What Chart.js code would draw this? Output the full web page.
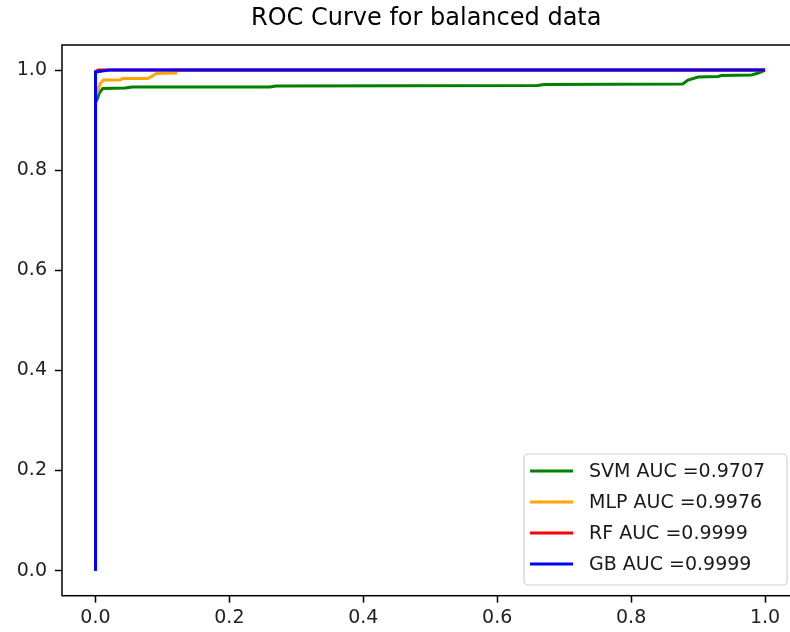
<!DOCTYPE html>
<html>
<head>
<meta charset="utf-8">
<script src="https://cdn.jsdelivr.net/npm/chart.js@4.4.1/dist/chart.umd.min.js"></script>
<style>
  html, body { margin: 0; padding: 0; background: #fff; overflow: hidden; }
  #wrap { width: 800px; height: 632px; }
</style>
</head>
<body>
<div id="wrap"><canvas id="roc" width="800" height="632"></canvas></div>
<script>
// ROC points (fpr / tpr)
const svmFpr = [0, 0, 0.003, 0.006, 0.011, 0.044, 0.055, 0.26, 0.27, 0.66, 0.67, 0.877, 0.885, 0.9, 0.93, 0.935, 0.98, 0.99, 1.0];
const svmTpr = [0, 0.935, 0.943, 0.955, 0.963, 0.964, 0.966, 0.966, 0.968, 0.969, 0.971, 0.972, 0.98, 0.986, 0.987, 0.989, 0.99, 0.994, 1.0];

const mlpFpr = [0, 0, 0.002, 0.007, 0.012, 0.037, 0.04, 0.078, 0.085, 0.091, 0.119, 0.12, 1.0];
const mlpTpr = [0, 0.95, 0.954, 0.973, 0.98, 0.98, 0.983, 0.983, 0.988, 0.993, 0.994, 1.0, 1.0];

const rfFpr = [0, 0, 0.004, 1.0];
const rfTpr = [0, 0.997, 1.0, 1.0];

const gbFpr = [0, 0, 0.005, 0.02, 1.0];
const gbTpr = [0, 0.996, 0.997, 1.0, 1.0];

const labels = ['SVM AUC =0.9707', 'MLP AUC =0.9976', 'RF AUC =0.9999', 'GB AUC =0.9999'];
const colors = ['#008000', '#ffa500', '#ff0000', '#0000ff'];
const tickValues = [0, 0.2, 0.4, 0.6, 0.8, 1.0];

const FONT = 'DejaVu Sans';

function toPoints(xs, ys) {
  return xs.map((x, i) => ({ x: x, y: ys[i] }));
}

const series = [[svmFpr, svmTpr], [mlpFpr, mlpTpr], [rfFpr, rfTpr], [gbFpr, gbTpr]];

// frame, title and matplotlib-like legend box
const decor = {
  id: 'decor',
  afterDraw(chart) {
    const { ctx, chartArea: a } = chart;
    ctx.save();
    ctx.strokeStyle = '#000';
    ctx.lineWidth = 1.5;
    ctx.strokeRect(a.left, a.top, a.right - a.left, a.bottom - a.top);

    ctx.fillStyle = '#000';
    ctx.font = '24px "' + FONT + '"';
    ctx.textAlign = 'center';
    ctx.textBaseline = 'middle';
    ctx.fillText('ROC Curve for balanced data', (a.left + a.right) / 2 - 4, 19);

    // legend
    const bw = 263, bh = 131;
    const bx = a.right - 11.5 - bw, by = a.bottom - 10.7 - bh;
    ctx.beginPath();
    ctx.roundRect(bx, by, bw, bh, 4);
    ctx.fillStyle = 'rgba(255,255,255,0.8)';
    ctx.fill();
    ctx.strokeStyle = '#d0d0d0';
    ctx.lineWidth = 1.2;
    ctx.stroke();

    ctx.font = '19px "' + FONT + '"';
    ctx.textAlign = 'left';
    chart.data.datasets.forEach((ds, i) => {
      const y = by + 17 + i * 31;
      ctx.strokeStyle = ds.borderColor;
      ctx.lineWidth = 3;
      ctx.beginPath();
      ctx.moveTo(bx + 6, y);
      ctx.lineTo(bx + 49, y);
      ctx.stroke();
      ctx.fillStyle = '#1a1a1a';
      ctx.fillText(ds.label, bx + 65, y + 1);
    });
    ctx.restore();
  }
};

new Chart(document.getElementById('roc'), {
  type: 'scatter',
  data: {
    datasets: series.map((s, i) => ({
      label: labels[i],
      data: toPoints(s[0], s[1]),
      showLine: true,
      borderColor: colors[i],
      backgroundColor: colors[i],
      borderWidth: 3,
      pointRadius: 0,
      tension: 0,
      order: 4 - i
    }))
  },
  options: {
    responsive: false,
    animation: false,
    layout: { padding: { top: 45, left: 0, right: 1.5, bottom: 0 } },
    plugins: { legend: { display: false }, title: { display: false }, tooltip: { enabled: false } },
    scales: {
      x: {
        type: 'linear',
        min: -0.05,
        max: 1.05,
        afterFit: s => { s.height = 36.3; },
        afterBuildTicks: s => { s.ticks = tickValues.map(v => ({ value: v })); },
        grid: { drawOnChartArea: false, tickLength: 7, color: '#000', tickWidth: 1.5 },
        border: { display: false },
        ticks: {
          padding: 4,
          color: '#222',
          font: { family: FONT, size: 19 },
          maxRotation: 0,
          callback: v => v.toFixed(1)
        }
      },
      y: {
        type: 'linear',
        min: -0.05,
        max: 1.05,
        afterFit: s => { s.width = 62; },
        afterBuildTicks: s => { s.ticks = tickValues.map(v => ({ value: v })); },
        grid: { drawOnChartArea: false, tickLength: 7, color: '#000', tickWidth: 1.5 },
        border: { display: false },
        ticks: {
          padding: 8,
          color: '#222',
          font: { family: FONT, size: 19 },
          callback: v => v.toFixed(1)
        }
      }
    }
  },
  plugins: [decor]
});
</script>
</body>
</html>
